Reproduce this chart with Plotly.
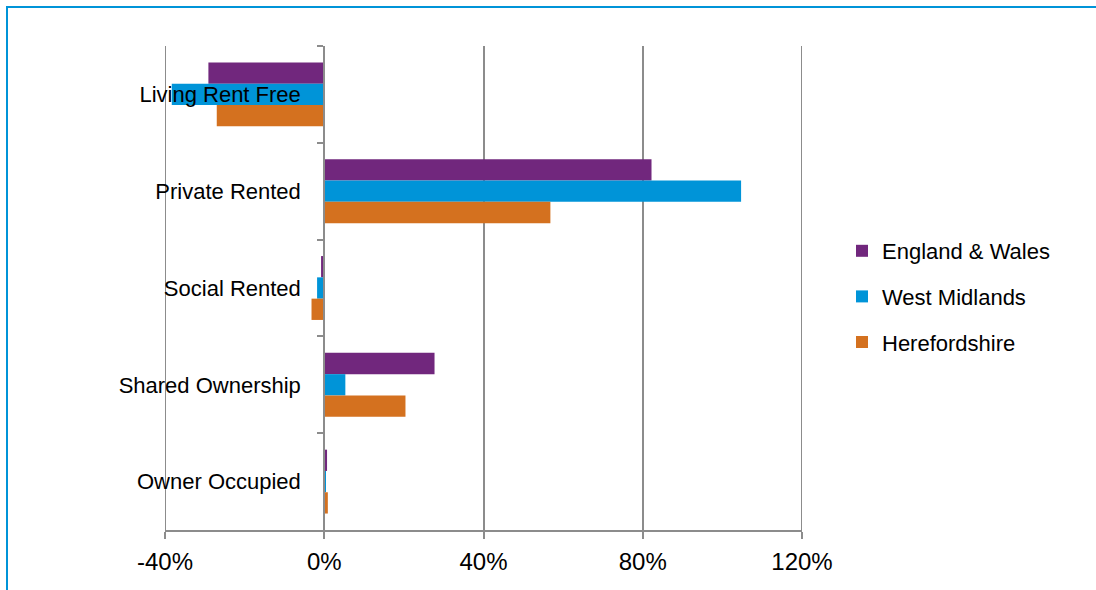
import plotly.graph_objects as go

categories = ["Living Rent Free", "Private Rented", "Social Rented", "Shared Ownership", "Owner Occupied"]
england_wales = [-29.1, 82.2, -0.8, 27.7, 0.7]
west_midlands = [-38.3, 104.7, -1.8, 5.3, 0.3]
herefordshire = [-27.0, 56.8, -3.2, 20.4, 0.9]
series_names = ["England & Wales", "West Midlands", "Herefordshire"]
colors = ["#71277D", "#0094D8", "#D4711F"]
x_ticks = [-40, 0, 40, 80, 120]
x_tick_labels = ["-40%", "0%", "40%", "80%", "120%"]

W, H = 1096, 590
L, R, T, B = 165, 294, 46, 60
pw, ph = W - L - R, H - T - B

fig = go.Figure()
for i, (name, vals) in enumerate(zip(series_names, [england_wales, west_midlands, herefordshire])):
    fig.add_trace(go.Bar(
        y=categories, x=vals, name=name, orientation="h",
        marker=dict(color=colors[i], line=dict(width=0)),
        legendgroup=f"g{i}",
    ))

fig.update_layout(
    width=W, height=H,
    margin=dict(l=L, r=R, t=T, b=B, pad=0),
    paper_bgcolor="white", plot_bgcolor="white",
    barmode="group", bargap=0.34, bargroupgap=0,
    font=dict(family="Liberation Sans, Arial, sans-serif", size=22, color="black"),
    xaxis=dict(
        range=[-40, 120], tickmode="array", tickvals=x_ticks, ticktext=x_tick_labels,
        showgrid=True, gridcolor="#8C8C8C", gridwidth=2, zeroline=False,
        showline=True, linecolor="#8C8C8C", linewidth=2,
        ticks="outside", ticklen=7, tickcolor="#8C8C8C", tickwidth=2,
        tickfont=dict(size=24), ticklabelstandoff=2,
    ),
    yaxis=dict(
        autorange="reversed", anchor="free", position=(0 - (-40)) / 160,
        showline=True, linecolor="#8C8C8C", linewidth=2,
        ticks="outside", tickson="boundaries", ticklen=6, tickcolor="#8C8C8C", tickwidth=2,
        showgrid=False, ticklabelstandoff=18, tickfont=dict(size=22),
    ),
    legend=dict(
        x=(842 - L) / pw, y=1 - (230 - T) / ph, xanchor="left", yanchor="top",
        traceorder="grouped", tracegroupgap=14,
        font=dict(size=22), bgcolor="rgba(0,0,0,0)",
    ),
    showlegend=True,
)

# edge gridlines (plotly omits gridlines on the plot edges)
for xv in (x_ticks[0], x_ticks[-1]):
    fig.add_shape(type="line", xref="x", yref="paper", x0=xv, x1=xv, y0=0, y1=1,
                  line=dict(color="#8C8C8C", width=2), layer="below")

fig.add_shape(
    type="rect", xref="paper", yref="paper",
    x0=(7 - L) / pw, x1=(W + 20 - L) / pw,
    y0=-(H + 20 - T - ph) / ph, y1=1 + (T - 7) / ph,
    line=dict(color="#0094D8", width=2), fillcolor="rgba(0,0,0,0)", layer="below",
)

fig.write_html(
    "out.html",
    config={"displayModeBar": False},
    post_script="document.body.style.margin='0';document.body.style.overflow='hidden';",
)
